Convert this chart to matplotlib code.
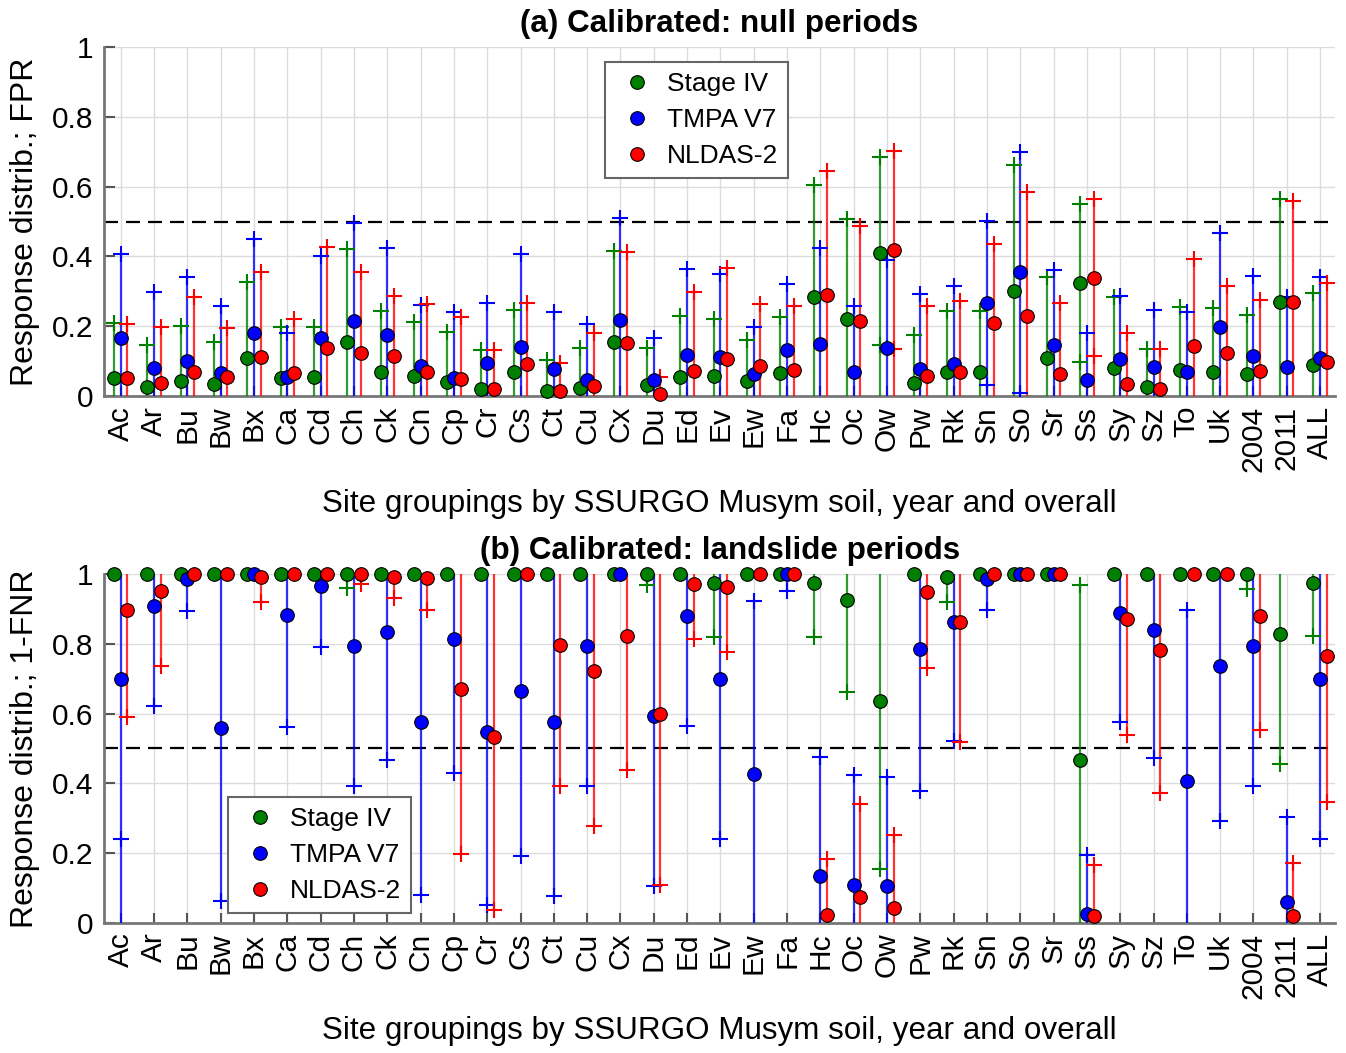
import numpy as np
import matplotlib.pyplot as plt
from matplotlib.lines import Line2D

plt.rcParams['font.family'] = ['Liberation Sans', 'DejaVu Sans']

sites = ['Ac', 'Ar', 'Bu', 'Bw', 'Bx', 'Ca', 'Cd', 'Ch', 'Ck', 'Cn', 'Cp', 'Cr', 'Cs',
         'Ct', 'Cu', 'Cx', 'Du', 'Ed', 'Ev', 'Ew', 'Fa', 'Hc', 'Oc', 'Ow', 'Pw', 'Rk',
         'Sn', 'So', 'Sr', 'Ss', 'Sy', 'Sz', 'To', 'Uk', '2004', '2011', 'ALL']
products = ['Stage IV', 'TMPA V7', 'NLDAS-2']
colors = ['#008000', '#0000ff', '#ff0000']
N = None

# (a) null periods: median, upper '+', extra lower '+'
a_stage_med = [.053, .027, .042, .034, .108, .052, .055, .156, .068, .058, .039, .019, .07,
               .015, .022, .156, .033, .055, .058, .043, .067, .283, .22, .41, .036, .068,
               .07, .30, .11, .325, .079, .027, .074, .068, .062, .27, .089]
a_stage_hi = [.208, .146, .20, .156, .326, .199, .199, .42, .245, .212, .184, .132, .246,
              .103, .137, .416, .137, .23, .22, .16, .227, .606, .506, .684, .175, .245,
              .245, .662, .34, .549, .283, .135, .256, .251, .232, .564, .294]
a_stage_lo = {'Ow': .146, 'Ss': .098}

a_tmpa_med = [.167, .081, .10, .067, .18, .055, .165, .215, .175, .085, .053, .094, .141,
              .077, .046, .218, .046, .117, .113, .062, .132, .148, .07, .137, .077, .091,
              .268, .354, .146, .046, .106, .084, .068, .197, .115, .084, .11]
a_tmpa_hi = [.406, .297, .34, .259, .449, .18, .40, .495, .425, .26, .242, .268, .407,
             .24, .205, .509, .165, .363, .349, .199, .32, .425, .259, .39, .292, .315,
             .501, .70, .361, .182, .287, .246, .242, .468, .344, .285, .34]
a_tmpa_lo = {'Ow': .137, 'Sn': .032, 'So': .008}

a_nldas_med = [.053, .038, .068, .055, .113, .065, .137, .122, .115, .068, .049, .019, .092,
               .015, .03, .151, .005, .072, .105, .086, .074, .289, .215, .418, .057, .068,
               .208, .229, .062, .337, .034, .02, .143, .124, .072, .27, .098]
a_nldas_hi = [.206, .199, .285, .194, .356, .222, .426, .354, .287, .263, .227, .132, .268,
              .094, .18, .414, .055, .297, .368, .263, .259, .645, .488, .702, .259, .273,
              .436, .585, .268, .564, .182, .135, .393, .316, .275, .559, .323]
a_nldas_lo = {'Ow': .135, 'Ss': .115}

# (b) landslide periods: median, '+', line bottom, line top
b_stage_med = [1, 1, 1, 1, 1, 1, 1, 1, 1, 1, 1, 1, 1, 1, 1, 1, 1, 1, .974, 1, 1, .974, .925,
               .637, 1, .99, 1, 1, 1, .468, 1, 1, 1, 1, 1, .828, .974]
b_stage_plus = [N, N, N, N, N, N, N, .96, N, N, N, N, N, N, N, N, .968, N, .82, N, N, .82,
                .662, .155, N, .92, N, N, N, .968, N, N, N, N, .957, .456, .821]
b_stage_lo = [N, N, N, N, N, N, N, .96, N, N, N, N, N, N, N, N, .968, N, .82, N, N, .82,
              .662, .155, N, .92, N, N, N, 0, N, N, N, N, .957, .456, .821]
b_stage_hi = [N, N, N, N, N, N, N, 1, N, N, N, N, N, N, N, N, 1, N, 1, N, N, 1,
              1, 1, N, 1, N, N, N, .968, N, N, N, N, 1, 1, 1]

b_tmpa_med = [.699, .907, .986, .559, 1, .883, .965, .795, .833, .577, .815, .547, .666,
              .575, .795, 1, .592, .881, .70, .427, 1, .134, .108, .105, .786, .862, .986,
              1, 1, .027, .888, .839, .406, .735, .795, .06, .699]
b_tmpa_plus = [.241, .621, .893, .062, N, .562, .791, .392, .466, .08, .43, .051, .193,
               .078, .392, N, .105, .564, .242, .924, .95, .475, .423, .417, .377, .522,
               .896, N, N, .196, .575, .473, .898, .293, .392, .304, .241]
b_tmpa_lo = [0, .621, .893, .062, N, .562, .791, .392, .466, .08, .43, .051, .193,
             .078, .392, N, .105, .564, .242, 0, .95, 0, 0, 0, .377, .522,
             .896, N, N, 0, .575, .473, 0, .293, .392, 0, .241]
b_tmpa_hi = [1, 1, 1, 1, N, 1, 1, 1, 1, 1, 1, 1, 1, 1, 1, N, 1, 1, 1, .924, 1, .475, .423,
             .417, 1, 1, 1, N, N, .196, 1, 1, .898, 1, 1, .304, 1]

b_nldas_med = [.898, .95, 1, 1, .99, 1, 1, 1, .99, .989, .669, .533, 1, .797, .723, .821,
               .60, .972, .963, 1, 1, .024, .075, .043, .948, .862, 1, 1, 1, .019, .872,
               .783, 1, 1, .879, .019, .766]
b_nldas_plus = [.59, .735, N, N, .92, N, N, .972, .931, .896, .199, .038, N, .392, .279,
                .439, .108, .814, .776, N, N, .184, .342, .253, .731, .518, N, N, N, .167,
                .54, .372, N, N, .554, .172, .346]
b_nldas_lo = [.59, .735, N, N, .92, N, N, .972, .931, .896, .199, .038, N, .392, .279,
              .439, .108, .814, .776, N, N, 0, 0, 0, .731, .518, N, N, N, 0,
              .54, .372, N, N, .554, 0, .346]
b_nldas_hi = [1, 1, N, N, 1, N, N, 1, 1, 1, 1, 1, N, 1, 1, 1, 1, 1, 1, N, N, .184, .342,
              .253, 1, 1, N, N, N, .167, 1, 1, N, N, 1, .172, 1]


def arr(v):
    return np.array(v, dtype=float)


def style_axes(ax, title, ylabel):
    ax.set_xlim(-0.5, 36.45)
    ax.set_ylim(0, 1)
    ax.set_xticks(np.arange(len(sites)))
    ax.set_xticklabels(sites, rotation=90)
    ax.set_yticks([0, 0.2, 0.4, 0.6, 0.8, 1])
    ax.set_yticklabels(['0', '0.2', '0.4', '0.6', '0.8', '1'])
    ax.grid(True, color='#dcdcdc', lw=1.0)
    ax.set_axisbelow(True)
    for s in ['top', 'right']:
        ax.spines[s].set_visible(False)
    for s in ['left', 'bottom']:
        ax.spines[s].set_color('#777777')
        ax.spines[s].set_linewidth(2)
    ax.tick_params(axis='y', direction='in', length=8, width=1.5, color='#555555',
                   labelsize=21.5, pad=8)
    ax.tick_params(axis='x', direction='in', length=7, width=1.5, color='#555555',
                   labelsize=21.5, pad=7)
    ax.axhline(0.5, color='k', lw=1.6, ls=(0, (6.3, 3.6)), zorder=2)
    ax.set_title(title, fontsize=22.6, fontweight='bold', pad=10.5)
    ax.set_ylabel(ylabel, fontsize=23, va='center')
    ax.yaxis.set_label_coords(-0.064, 0.5)
    ax.set_xlabel('Site groupings by SSURGO Musym soil, year and overall',
                  fontsize=22.6, va='center')
    ax.xaxis.set_label_coords(0.5, -0.31)


def draw_series(ax, x, med, lo, hi, plus, color):
    ok = ~np.isnan(lo)
    ax.vlines(x[ok], lo[ok], hi[ok], color=color, lw=1.6, alpha=0.8, zorder=3)
    ax.plot(x, plus, ls='none', marker='+', ms=11, mew=1.5, color=color,
            zorder=4, clip_on=False)
    ax.plot(x, med, ls='none', marker='o', ms=9.8, mfc=color, mec='k', mew=0.8,
            zorder=5, clip_on=False)


def add_legend(ax, x0, y0):
    handles = [Line2D([], [], ls='none', marker='o', ms=9.8, mfc=c, mec='k', mew=0.8)
               for c in colors]
    leg = ax.legend(handles, products, loc='upper left', bbox_to_anchor=(x0, y0),
                    fontsize=19, frameon=True, fancybox=False, framealpha=1,
                    edgecolor='#666666', handlelength=1.67, handletextpad=0.3,
                    labelspacing=0.45, borderpad=0.38, borderaxespad=0)
    leg.get_frame().set_linewidth(1.5)
    leg.set_zorder(10)


fig = plt.figure(figsize=(13.46, 10.53), dpi=100)
ax_a = fig.add_axes([0.0773, 0.6239, 0.9146, 0.3314])
ax_b = fig.add_axes([0.0773, 0.1235, 0.9146, 0.3314])

x = np.arange(len(sites))
offsets = [-0.2, 0.0, 0.2]

# panel (a)
a_data = [(a_stage_med, a_stage_hi, a_stage_lo),
          (a_tmpa_med, a_tmpa_hi, a_tmpa_lo),
          (a_nldas_med, a_nldas_hi, a_nldas_lo)]
for (med, hi, extra), off, c in zip(a_data, offsets, colors):
    hi = arr(hi)
    lo = np.zeros_like(hi)
    xs = x + off
    draw_series(ax_a, xs, arr(med), lo, hi, hi, c)
    ex = [sites.index(k) for k in extra]
    ax_a.plot(xs[ex], list(extra.values()), ls='none', marker='+', ms=11, mew=1.5,
              color=c, zorder=4)
style_axes(ax_a, '(a) Calibrated: null periods', 'Response distrib.; FPR')
add_legend(ax_a, 0.407, 0.957)

# panel (b)
b_data = [(b_stage_med, b_stage_lo, b_stage_hi, b_stage_plus),
          (b_tmpa_med, b_tmpa_lo, b_tmpa_hi, b_tmpa_plus),
          (b_nldas_med, b_nldas_lo, b_nldas_hi, b_nldas_plus)]
for (med, lo, hi, plus), off, c in zip(b_data, offsets, colors):
    draw_series(ax_b, x + off, arr(med), arr(lo), arr(hi), arr(plus), c)
style_axes(ax_b, '(b) Calibrated: landslide periods', 'Response distrib.; 1-FNR')
add_legend(ax_b, 0.1007, 0.361)

fig.savefig('out.png', dpi=100)
